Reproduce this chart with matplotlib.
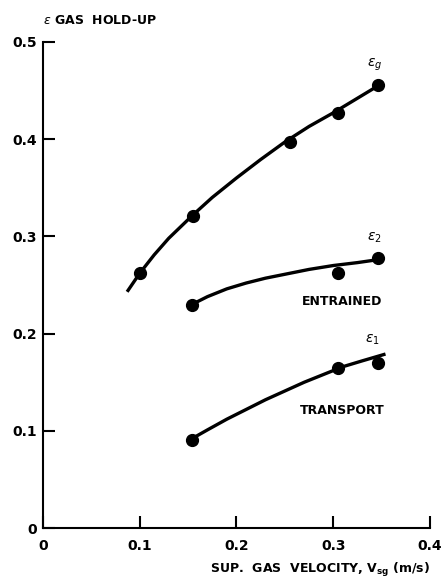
import matplotlib.pyplot as plt

# measured points (superficial gas velocity, hold-up)
v_g = [0.100, 0.155, 0.255, 0.305, 0.346]
eps_g = [0.262, 0.321, 0.397, 0.427, 0.456]
v_2 = [0.154, 0.305, 0.346]
eps_2 = [0.229, 0.262, 0.278]
v_1 = [0.154, 0.305, 0.346]
eps_1 = [0.091, 0.165, 0.170]

# smooth fitted curves
curve_g_x = [0.087, 0.100, 0.115, 0.130, 0.155, 0.175, 0.200, 0.225, 0.250, 0.275, 0.300, 0.325, 0.345]
curve_g_y = [0.243, 0.262, 0.281, 0.298, 0.322, 0.340, 0.360, 0.379, 0.397, 0.413, 0.427, 0.442, 0.454]
curve_2_x = [0.154, 0.170, 0.190, 0.210, 0.230, 0.250, 0.275, 0.300, 0.325, 0.346]
curve_2_y = [0.230, 0.238, 0.246, 0.252, 0.257, 0.261, 0.266, 0.270, 0.273, 0.276]
curve_1_x = [0.154, 0.170, 0.190, 0.210, 0.230, 0.250, 0.270, 0.290, 0.310, 0.330, 0.354]
curve_1_y = [0.092, 0.101, 0.112, 0.122, 0.132, 0.141, 0.150, 0.158, 0.166, 0.172, 0.179]

xticks = [0, 0.1, 0.2, 0.3, 0.4]
xtick_labels = ['0', '0.1', '0.2', '0.3', '0.4']
yticks = [0, 0.1, 0.2, 0.3, 0.4, 0.5]
ytick_labels = ['0', '0.1', '0.2', '0.3', '0.4', '0.5']

plt.rcParams['font.family'] = ['DejaVu Sans']

fig = plt.figure(figsize=(4.47, 5.81), dpi=100)
ax = fig.add_axes([0.096, 0.091, 0.866, 0.837])

for cx, cy in [(curve_g_x, curve_g_y), (curve_2_x, curve_2_y), (curve_1_x, curve_1_y)]:
    ax.plot(cx, cy, color='black', lw=2.4, solid_capstyle='butt', solid_joinstyle='round')
for px, py in [(v_g, eps_g), (v_2, eps_2), (v_1, eps_1)]:
    ax.plot(px, py, 'o', color='black', ms=8.5)

ax.set_xlim(0, 0.4)
ax.set_ylim(0, 0.5)
ax.spines['top'].set_visible(False)
ax.spines['right'].set_visible(False)
ax.spines['left'].set_linewidth(1.5)
ax.spines['bottom'].set_linewidth(1.5)
ax.set_xticks(xticks)
ax.set_xticklabels(xtick_labels)
ax.set_yticks(yticks)
ax.set_yticklabels(ytick_labels)
ax.tick_params(direction='in', length=8.5, width=1.5, labelsize=10)
ax.tick_params(axis='x', pad=8)
ax.tick_params(axis='y', pad=4)
for lab in ax.get_xticklabels() + ax.get_yticklabels():
    lab.set_fontweight('bold')

ax.text(0.0, 1.03, r'$\epsilon$ GAS  HOLD-UP', transform=ax.transAxes,
        fontsize=9, fontweight='bold', ha='left', va='bottom')
ax.text(1.0, -0.086, r'SUP.  GAS  VELOCITY, V$_{\mathregular{sg}}$ (m/s)',
        transform=ax.transAxes, fontsize=9, fontweight='bold', ha='right', va='center')

ax.text(0.343, 0.476, r'$\epsilon_g$', fontsize=10, ha='center', va='center')
ax.text(0.342, 0.299, r'$\epsilon_2$', fontsize=10, ha='center', va='center')
ax.text(0.340, 0.194, r'$\epsilon_1$', fontsize=10, ha='center', va='center')
ax.text(0.309, 0.233, 'ENTRAINED', fontsize=9, fontweight='bold', ha='center', va='center')
ax.text(0.309, 0.121, 'TRANSPORT', fontsize=9, fontweight='bold', ha='center', va='center')

fig.savefig('out.png', dpi=100)
